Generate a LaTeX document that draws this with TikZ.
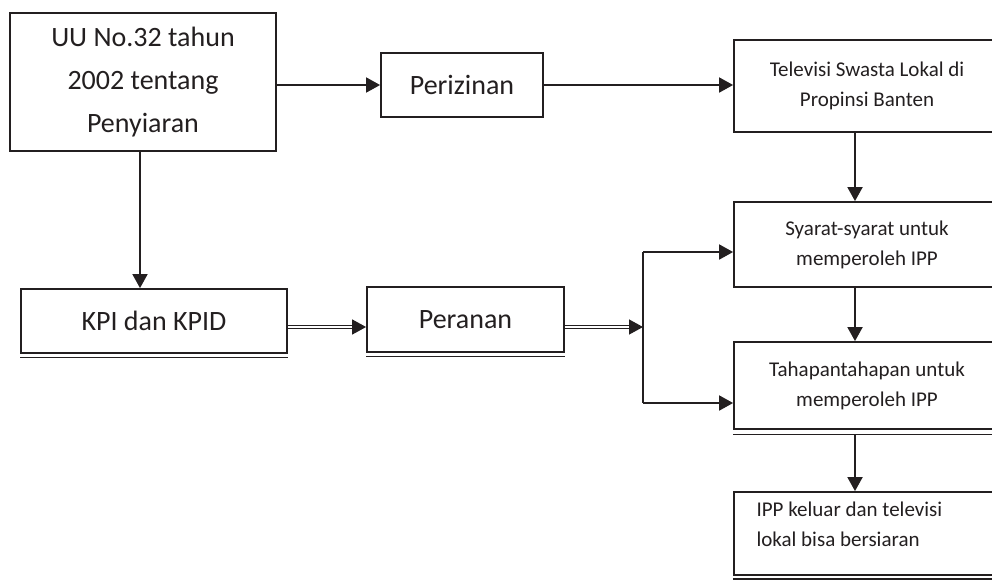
\documentclass[tikz,border=0pt]{standalone}
\usepackage{fontspec}
\setmainfont{Carlito}
\usetikzlibrary{arrows.meta,calc}
\definecolor{ink}{HTML}{231F20}
\tikzset{
  box/.style={draw=ink, line width=1.8pt, fill=white, inner sep=0pt, align=center, text=ink},
  bigtxt/.style={font=\fontsize{28}{43}\selectfont},
  smalltxt/.style={font=\fontsize{21}{30}\selectfont},
  conn/.style={draw=ink, line width=1.8pt},
  arr/.style={conn, -{Triangle[length=14pt,width=15pt]}},
  dbl/.style={draw=ink, line width=1.3pt, double=white, double distance=1.8pt, -{Triangle[length=14pt,width=15pt]}},
  extra/.style={draw=ink, line width=1.2pt}
}
\begin{document}
\begin{tikzpicture}[x=1pt,y=-1pt]
\useasboundingbox (0,0) rectangle (992,579);
\clip (0,0) rectangle (992,579);
\fill[white] (0,0) rectangle (992,579);
% boxes
\node[box, bigtxt, minimum width=266pt, minimum height=138pt] (uu) at (143,82) {UU No.32 tahun\\2002 tentang\\Penyiaran};
\node[box, bigtxt, minimum width=162pt, minimum height=64pt] (izin) at (462,85) {Perizinan};
\node[box, bigtxt, minimum width=266pt, minimum height=64pt] (kpi) at (154,321) {KPI dan KPID};
\node[box, bigtxt, minimum width=197pt, minimum height=65pt] (peran) at (465.5,319.5) {Peranan};
\node[box, smalltxt, minimum width=266pt, minimum height=92pt] (tv) at (867,86) {Televisi Swasta Lokal di\\Propinsi Banten};
\node[box, smalltxt, minimum width=266pt, minimum height=85pt] (syarat) at (867,244.5) {Syarat-syarat untuk\\memperoleh IPP};
\node[box, smalltxt, minimum width=266pt, minimum height=87pt] (tahap) at (867,385.5) {Tahapantahapan untuk\\memperoleh IPP};
\node[box, minimum width=266pt, minimum height=83pt] (ipp) at (867,533.5) {};
\node[smalltxt, align=left, anchor=west, text=ink] (ipptxt) at (753,524) {IPP keluar dan televisi\\lokal bisa bersiaran};
% extra bottom lines
\draw[extra] ([yshift=-3.5pt]kpi.south west) -- ([yshift=-3.5pt]kpi.south east);
\draw[extra] ([yshift=-3.5pt]peran.south west) -- ([yshift=-3.5pt]peran.south east);
\draw[extra] ([yshift=-4.5pt]tahap.south west) -- ([yshift=-4.5pt]tahap.south east);
\draw[extra] ([yshift=-3pt]ipp.south west) -- ([yshift=-3pt]ipp.south east);
% coordinates
\coordinate (vx) at (855,0);
\coordinate (ux) at (140,0);
\coordinate (j) at (643,327);
\coordinate (ja) at (643,252);
\coordinate (jb) at (643,403);
% connectors
\draw[arr] (uu.east |- izin.west) -- (izin.west);
\draw[arr] (izin.east) -- (izin.east -| tv.west);
\draw[arr] (uu.south -| ux) -- (kpi.north -| ux);
\draw[arr] (tv.south -| vx) -- (syarat.north -| vx);
\draw[arr] (syarat.south -| vx) -- (tahap.north -| vx);
\draw[arr] ([yshift=-4.5pt]tahap.south -| vx) -- (ipp.north -| vx);
\draw[dbl] (kpi.east |- j) -- (peran.west |- j);
\draw[dbl] (peran.east |- j) -- (j);
\draw[conn] (ja) -- (jb);
\draw[arr] (ja) -- (syarat.west |- ja);
\draw[arr] (jb) -- (tahap.west |- jb);
\end{tikzpicture}
\end{document}
